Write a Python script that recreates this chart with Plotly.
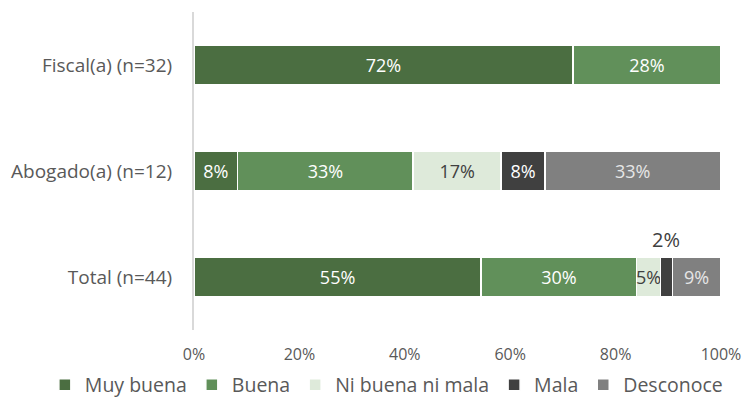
import plotly.graph_objects as go

# categories, top to bottom
groups = ['Fiscal(a) (n=32)', 'Abogado(a) (n=12)', 'Total (n=44)']

# percentages per rating
muy_buena = [71.9, 8.3, 54.5]
buena = [28.1, 33.3, 29.5]
ni_buena = [0, 16.7, 4.5]
mala = [0, 8.3, 2.3]
desconoce = [0, 33.3, 9.1]

series = [
    ('Muy buena', muy_buena, '#4B6E41', 'white'),
    ('Buena', buena, '#61905A', 'white'),
    ('Ni buena ni mala', ni_buena, '#DEEADA', '#404040'),
    ('Mala', mala, '#404040', 'white'),
    ('Desconoce', desconoce, '#808080', '#E6E6E6'),
]

font_name = 'Open Sans'


def lab(v):
    if v <= 0:
        return ''
    return '%d%%' % int(v + 0.5)


fig = go.Figure()
for name, vals, color, tcolor in series:
    texts = [lab(v) for v in vals]
    if name == 'Mala':
        texts[2] = ''  # shown above the bar instead
    fig.add_trace(go.Bar(
        y=groups, x=vals, name=name, orientation='h',
        marker=dict(color=color, line=dict(color='white', width=1.5)),
        text=texts, textposition='inside', insidetextanchor='middle',
        textangle=0, constraintext='none',
        textfont=dict(color=tcolor, size=18, family=font_name),
        hoverinfo='x+name',
    ))

# small Mala label for the total row
x_mala = muy_buena[2] + buena[2] + ni_buena[2] + mala[2] / 2
fig.add_annotation(x=x_mala, y=groups[2], text=lab(mala[2]), showarrow=False,
                   yshift=38, font=dict(size=20, color='#404040', family=font_name))

fig.update_layout(
    width=745, height=398,
    barmode='stack', bargap=0.62,
    margin=dict(l=194, r=24, t=12, b=68, autoexpand=False),
    paper_bgcolor='white', plot_bgcolor='white',
    font=dict(family=font_name, color='#595959'),
    xaxis=dict(range=[0, 100], tickvals=[0, 20, 40, 60, 80, 100],
               ticktext=['0%', '20%', '40%', '60%', '80%', '100%'],
               showgrid=False, zeroline=False, showline=False,
               automargin=False, ticklabelstandoff=13,
               tickfont=dict(size=16, color='#595959')),
    yaxis=dict(categoryorder='array', categoryarray=groups[::-1],
               showgrid=False, zeroline=False, showline=True,
               linecolor='#D9D9D9', linewidth=2, ticks='', ticklen=0,
               automargin=False, ticklabelstandoff=16,
               tickfont=dict(size=19, color='#595959')),
    legend=dict(orientation='h', x=-0.283, xanchor='left', y=-0.173, yanchor='middle',
                font=dict(size=19.5, color='#595959'), traceorder='normal'),
    showlegend=True,
)

# drop the default page margin so the figure fills the window exactly
fig.write_html('out.html', config={'displayModeBar': False},
               post_script="document.body.style.margin='0';document.body.style.overflow='hidden';")
